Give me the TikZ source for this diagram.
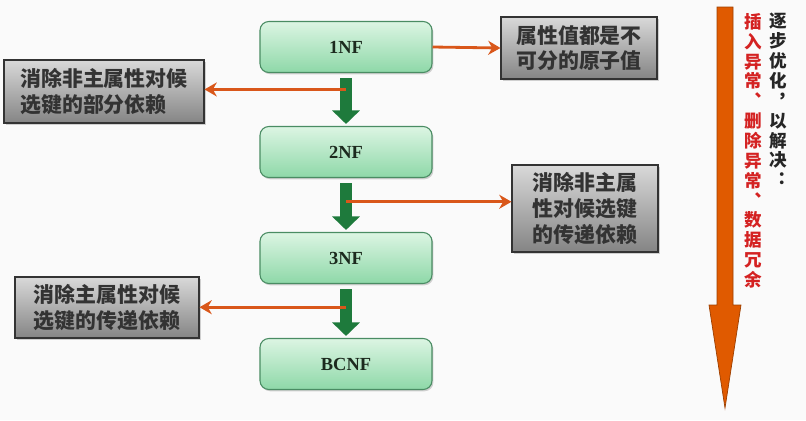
\documentclass[tikz,border=0pt]{standalone}
\usepackage{fontspec}
\setmainfont{Liberation Serif}
\newfontfamily\cjk{Noto Sans CJK SC}
\usetikzlibrary{arrows.meta,shadows}

\definecolor{nftop}{HTML}{DCF5E3}
\definecolor{nfbot}{HTML}{8ED8A8}
\definecolor{nfline}{HTML}{4A8C63}
\definecolor{nftext}{HTML}{1C2A1E}
\definecolor{stepgreen}{HTML}{1E7A3C}
\definecolor{linkorange}{HTML}{D9571A}
\definecolor{bigorange}{HTML}{E05A00}
\definecolor{noticered}{HTML}{D42222}

\begin{document}
\begin{tikzpicture}[x=0.02cm,y=-0.02cm,
  nfbox/.style={draw=nfline, line width=0.6pt, rounded corners=5pt,
    top color=nftop, bottom color=nfbot,
    minimum width=3.44cm, minimum height=1.02cm,
    font=\bfseries\fontsize{10.5}{11}\selectfont, text=nftext,
    drop shadow={shadow xshift=0.8pt, shadow yshift=-1pt, opacity=0.35}},
  notebox/.style={draw=black!80, line width=0.6pt,
    top color=black!15, bottom color=black!48,
    align=left, inner sep=0pt,
    font=\cjk\bfseries\fontsize{11.9}{14.7}\selectfont, text=black!80,
    drop shadow={shadow xshift=1pt, shadow yshift=-1pt, opacity=0.35}},
  steparrow/.style={stepgreen, line width=0.23cm,
    -{Triangle[length=0.27cm, width=0.54cm]},
    shorten <=0.1cm, shorten >=0.04cm},
  link/.style={linkorange, line width=1.6pt, -{Stealth[length=7pt, width=8pt]}},
  vtext/.style={anchor=north, align=center, inner sep=0pt,
    font=\cjk\bfseries\fontsize{10}{11.3}\selectfont}]

  \useasboundingbox[fill=black!2] (0,0) rectangle (806,420);

  % normal forms
  \node[nfbox] (nf1) at (346,47)  {1NF};
  \node[nfbox] (nf2) at (346,152) {2NF};
  \node[nfbox] (nf3) at (346,258) {3NF};
  \node[nfbox] (bc)  at (346,364) {BCNF};

  % notes
  \node[notebox, minimum width=3.12cm, minimum height=1.24cm] (g1) at (579,48)
    {属性值都是不\\可分的原子值};
  \node[notebox, minimum width=4.0cm, minimum height=1.26cm] (g2) at (104,91.5)
    {消除非主属性对候\\选键的部分依赖};
  \node[notebox, minimum width=2.92cm, minimum height=1.74cm] (g3) at (585,208.5)
    {消除非主属\\性对候选键\\的传递依赖};
  \node[notebox, minimum width=3.68cm, minimum height=1.22cm] (g4) at (107,307.5)
    {消除主属性对候\\选键的传递依赖};

  % green steps
  \draw[steparrow] (nf1) -- coordinate[pos=0.31] (a1) (nf2);
  \draw[steparrow] (nf2) -- coordinate[pos=0.44] (a2) (nf3);
  \draw[steparrow] (nf3) -- coordinate[pos=0.43] (a3) (bc);

  % orange links
  \draw[link] (nf1.east) -- (g1.west);
  \draw[link] (a1) -- (a1 -| g2.east);
  \draw[link] (a2) -- (a2 -| g3.west);
  \draw[link] (a3) -- (a3 -| g4.east);

  % big arrow on the right
  \draw[bigorange!70!black, line width=0.4pt, fill=bigorange]
    (717,7) -- (733,7) -- (733,305) -- (741,305) -- (725,408)
    -- (709,305) -- (717,305) -- cycle;
  \node[vtext, text=black!85] (why) at (778,13)
    {逐\\步\\优\\化\\︐\\以\\解\\决\\︓};
  \node[vtext, text=noticered] (what) at (753,13)
    {插\\入\\异\\常\\︑\\删\\除\\异\\常\\︑\\数\\据\\冗\\余};
\end{tikzpicture}
\end{document}
